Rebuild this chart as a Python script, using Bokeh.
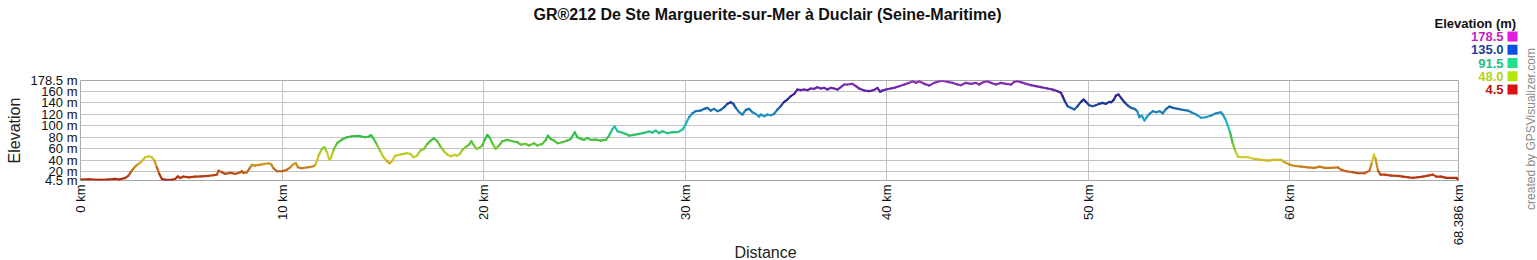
import numpy as np
from bokeh.plotting import figure
from bokeh.layouts import column
from bokeh.models import Range1d, FixedTicker, CustomJSTickFormatter, Label, ColumnDataSource
from bokeh.embed import file_html
from bokeh.resources import INLINE

# ---------------- data ----------------
dist_km = [
    0.00, 0.40, 0.89, 1.39, 1.72, 1.89, 2.22, 2.38, 2.55, 2.71, 2.88, 3.05, 3.21, 3.38, 3.54, 3.67,
    3.79, 3.91, 4.04, 4.20, 4.54, 4.70, 4.83, 4.95, 5.11, 5.36, 5.69, 6.02, 6.35, 6.60, 6.77, 6.85,
    7.02, 7.18, 7.43, 7.68, 7.93, 8.01, 8.09, 8.26, 8.42, 8.51, 8.67, 8.92, 9.17, 9.33, 9.47, 9.58,
    9.75, 10.00, 10.24, 10.41, 10.58, 10.69, 10.79, 10.96, 11.32, 11.57, 11.68, 11.85, 11.98, 12.11,
    12.23, 12.35, 12.43, 12.56, 12.73, 12.98, 13.22, 13.47, 13.80, 14.13, 14.30, 14.42, 14.55, 14.71,
    14.88, 15.04, 15.21, 15.34, 15.46, 15.62, 15.87, 16.04, 16.20, 16.37, 16.53, 16.70, 16.87,
    17.05, 17.21, 17.38, 17.54, 17.71, 17.87, 18.04, 18.20, 18.37, 18.53, 18.70, 18.83, 18.95, 19.11,
    19.28, 19.40, 19.53, 19.66, 19.78, 19.94, 20.06, 20.19, 20.32, 20.44, 20.60, 20.77, 20.93, 21.18,
    21.43, 21.68, 21.85, 22.09, 22.26, 22.51, 22.67, 22.92, 23.09, 23.20, 23.33, 23.50, 23.67, 23.91,
    24.16, 24.33, 24.53, 24.66, 24.82, 24.99, 25.16, 25.32, 25.57, 25.82, 26.07, 26.23, 26.40, 26.51,
    26.65, 26.81, 27.06, 27.22, 27.47, 27.72, 27.97, 28.22, 28.38, 28.55, 28.71, 28.88, 29.13, 29.38,
    29.62, 29.87, 30.04, 30.20, 30.37, 30.53, 30.78, 30.95, 31.11, 31.28, 31.44, 31.61, 31.78, 31.94,
    32.11, 32.27, 32.40, 32.52, 32.69, 32.85, 33.02, 33.18, 33.35, 33.51, 33.68,
    33.76, 33.93, 34.09, 34.26, 34.42, 34.59, 34.75, 34.92, 35.08, 35.25, 35.42, 35.58, 35.75, 35.91,
    36.08, 36.24, 36.41, 36.57, 36.74, 36.90, 37.07, 37.24, 37.40, 37.57, 37.73, 37.90, 38.06, 38.31,
    38.48, 38.64, 38.89, 39.14, 39.39, 39.55, 39.69, 39.80, 39.97, 40.21, 40.38, 40.63, 40.88, 41.13,
    41.29, 41.46, 41.62, 41.87, 42.12, 42.37, 42.61, 42.78, 43.03, 43.28, 43.52, 43.69, 43.94, 44.19,
    44.44, 44.60, 44.85, 45.01, 45.18, 45.43, 45.68, 45.92, 46.17, 46.34, 46.50, 46.67, 46.92, 47.17,
    47.41, 47.66, 47.99, 48.24, 48.49, 48.66, 48.74, 48.85, 48.99, 49.15, 49.32, 49.48, 49.65, 49.78,
    49.90, 50.06, 50.23, 50.39, 50.56, 50.72, 50.89, 51.06,
    51.15, 51.28, 51.39, 51.51, 51.64, 51.81, 51.97, 52.14, 52.31, 52.44, 52.55, 52.67, 52.80, 52.93,
    53.05, 53.22, 53.38, 53.55, 53.71, 53.88, 54.04, 54.21, 54.46, 54.70, 54.95, 55.12, 55.37, 55.62,
    55.86, 56.11, 56.36, 56.58, 56.69, 56.81, 56.94, 57.07, 57.19, 57.30, 57.44, 57.60, 57.93, 58.26,
    58.59, 58.93, 59.26, 59.59, 59.75, 60.00, 60.25, 60.58, 60.91, 61.24, 61.49, 61.74, 62.07, 62.40,
    62.57, 62.81, 63.15, 63.39, 63.73, 63.97, 64.09, 64.19, 64.27, 64.39, 64.52, 64.72, 65.05, 65.38,
    65.63, 65.88, 66.12, 66.37, 66.62, 66.87, 67.12, 67.28, 67.53, 67.78, 68.03, 68.28, 68.386,
]

elev_m = [
    6.0, 6.6, 5.5, 6.0, 7.2, 6.0, 8.9, 13.0, 21.7, 28.7, 33.3, 38.0, 44.9, 46.7, 44.9, 39.1,
    27.5, 15.9, 7.2, 5.5, 5.5, 7.2, 11.8, 8.9, 11.3, 10.1, 11.3, 11.8, 12.4, 13.6, 14.8, 21.7,
    18.8, 15.9, 17.7, 15.9, 18.8, 20.6, 17.7, 18.8, 27.5, 31.6, 30.4, 32.2, 33.3, 34.5, 32.2, 25.8,
    20.6, 20.6, 22.9, 27.5, 33.3, 34.5, 27.5, 25.8, 27.5, 29.3, 33.3, 50.8, 59.5, 62.4,
    53.7, 40.3, 43.8, 57.7, 69.3, 75.7, 79.8, 81.5, 82.1, 79.8, 80.9, 83.3, 76.9, 67.0,
    55.4, 44.9, 38.0, 34.5, 38.0, 47.8, 49.6, 50.8, 51.9, 50.8, 44.9, 47.8, 56.6,
    59.5, 68.2, 74.0, 78.0, 72.8, 63.5, 55.4, 49.6, 46.7, 49.0, 47.8, 50.8, 57.7, 62.4,
    67.0, 72.8, 65.3, 59.5, 61.2, 65.3, 75.1, 83.9, 78.6, 69.3, 59.5, 65.3, 72.8, 75.1,
    72.8, 71.1, 67.0, 68.2, 65.3, 69.3, 65.3, 68.2, 75.1, 82.7, 76.9, 74.0, 69.3, 71.1,
    74.0, 76.9, 88.5, 79.8, 76.9, 75.1, 78.6, 75.1, 75.7, 74.0, 75.1, 82.7, 94.3, 98.4,
    90.2, 88.5, 85.6, 82.7, 83.9, 85.6, 87.3, 89.7, 87.9, 91.4, 86.8, 90.2, 86.8, 88.5,
    88.5, 92.6, 103.0, 114.6, 121.6, 125.1, 126.2, 129.1, 130.9, 126.2, 129.1, 125.1, 127.4, 132.0,
    137.9, 140.8, 137.9, 130.9, 123.3, 119.3, 127.4, 129.1, 123.3, 120.4, 115.8,
    119.3, 116.4, 119.3, 118.1, 120.4, 128.0, 133.8, 141.3, 145.4, 151.2, 155.3, 162.8, 161.7, 162.8,
    161.7, 164.6, 164.0, 166.9, 164.6, 165.7, 162.8, 165.7, 164.6, 162.8, 166.9, 171.5, 171.5, 172.7,
    168.6, 164.6, 161.1, 159.9, 162.2, 165.7, 158.8, 161.1, 162.8, 164.6, 165.7, 168.6, 171.5, 174.4,
    177.3, 174.4, 177.3, 172.7, 169.8, 174.4, 177.3, 178.0, 176.2, 174.4, 171.5, 170.4, 174.4, 172.7,
    174.4, 171.5, 176.2, 177.3, 174.4, 171.5, 174.4, 172.7, 171.5, 176.2, 177.3, 175.6, 172.7, 170.4,
    168.6, 166.9, 164.6, 162.8, 159.9, 157.0, 151.2, 142.5, 133.8, 130.9, 128.0, 133.8, 141.3, 145.4,
    141.3, 135.5, 133.8, 135.5, 137.9, 139.6, 137.9, 141.3,
    140.7, 144.8, 152.4, 154.1, 148.3, 140.7, 135.0, 130.9, 129.1, 125.1, 114.6, 117.5, 108.8, 115.8,
    120.4, 125.1, 123.3, 125.1, 121.6, 129.1, 133.2, 130.9, 129.1, 127.4, 126.2, 123.3, 119.3, 113.5,
    114.6, 117.5, 121.6, 123.3, 119.3, 111.7, 100.1, 85.6, 68.2, 56.6, 46.1, 45.0, 45.0, 42.0,
    40.3, 39.1, 40.3, 40.3, 36.2, 32.2, 29.8, 28.7, 27.5, 26.4, 28.7, 26.4, 26.4, 27.5,
    22.9, 20.6, 18.8, 17.1, 17.1, 21.7, 36.2, 49.6, 42.0, 21.7, 14.7, 14.7, 13.0, 12.4,
    11.3, 10.1, 9.0, 10.1, 11.3, 13.0, 14.7, 11.3, 11.3, 9.0, 9.0, 9.0, 5.5,
]

x_ticks = [0, 10, 20, 30, 40, 50, 60, 68.386]
y_ticks = [4.5, 20, 40, 60, 80, 100, 120, 140, 160, 178.5]

legend_title = "Elevation (m)"
legend_values = ["178.5", "135.0", "91.5", "48.0", "4.5"]
legend_text_colors = ["#c21fc2", "#1a3f9e", "#22c07e", "#b4cf1c", "#c01010"]
legend_box_colors = ["#e01ee0", "#0a50e6", "#20e08a", "#b4e60a", "#e01010"]

# elevation -> line colour stops
stop_elev = [4.5, 18, 30, 44, 55, 68, 82, 92, 105, 120, 132, 142, 155, 168, 178.5]
stop_cols = ["#b0200f", "#c05018", "#cc8a20", "#d4cc28", "#a8cc30", "#5cc438", "#30c048",
             "#28c0a0", "#20b8d0", "#2090c0", "#1c5aa8", "#1c2c8c", "#401c98", "#7a28b0", "#9030b8"]

FONT = "Liberation Sans"
W, H = 1537, 260
X_MAX = x_ticks[-1]

# ---------------- main chart ----------------
p = figure(width=W, height=H, x_range=Range1d(0, X_MAX), y_range=Range1d(4.5, 178.5),
           min_border_left=80, min_border_right=79, min_border_top=80, min_border_bottom=80,
           output_backend="svg", toolbar_location=None, background_fill_color="white",
           border_fill_color="white")
p.outline_line_color = "#a8a8a8"

d = np.array(dist_km)
e = np.array(elev_m)
mid = (e[:-1] + e[1:]) / 2.0
rgb = np.array([[int(c[i:i + 2], 16) for i in (1, 3, 5)] for c in stop_cols], dtype=float)
cols = []
for m in mid:
    r = np.interp(m, stop_elev, rgb[:, 0])
    g = np.interp(m, stop_elev, rgb[:, 1])
    b = np.interp(m, stop_elev, rgb[:, 2])
    cols.append("#%02x%02x%02x" % (int(r), int(g), int(b)))
src = ColumnDataSource(dict(x0=d[:-1], y0=e[:-1], x1=d[1:], y1=e[1:], c=cols))
p.segment(x0="x0", y0="y0", x1="x1", y1="y1", line_color="c", line_width=2.2,
          line_cap="round", source=src)

p.xaxis.ticker = FixedTicker(ticks=x_ticks)
p.yaxis.ticker = FixedTicker(ticks=y_ticks)
p.xaxis.formatter = CustomJSTickFormatter(code="return tick + ' km'")
p.yaxis.formatter = CustomJSTickFormatter(code="return tick + ' m'")
p.xaxis.major_label_orientation = np.pi / 2
for ax in (p.xaxis[0], p.yaxis[0]):
    ax.axis_line_color = None
    ax.major_tick_line_color = None
    ax.minor_tick_line_color = None
    ax.major_tick_out = 0
    ax.major_tick_in = 0
    ax.major_label_text_font = FONT
    ax.major_label_text_font_size = "13px"
    ax.major_label_text_color = "#111111"
p.yaxis.major_label_standoff = 3
p.xaxis.major_label_standoff = 4
p.yaxis.axis_label = "Elevation"
p.yaxis.axis_label_text_font = FONT
p.yaxis.axis_label_text_font_size = "16px"
p.yaxis.axis_label_text_font_style = "normal"
p.yaxis.axis_label_text_color = "#222222"
p.yaxis.axis_label_standoff = 5
p.xgrid.grid_line_color = "#c4c4c4"
p.ygrid.grid_line_color = "#c4c4c4"

# ---------------- transparent overlay for texts around the chart ----------------
ov = figure(width=W, height=H, x_range=Range1d(0, W), y_range=Range1d(H, 0),
            x_axis_type=None, y_axis_type=None, min_border=0,
            output_backend="svg", toolbar_location=None,
            background_fill_alpha=0, border_fill_alpha=0, outline_line_color=None)
ov.grid.visible = False
ov.margin = (-H, 0, 0, 0)
for fig in (p, ov):
    if "frame_align" in fig.properties():
        fig.frame_align = False


def lab(text, x, y, size, bold=False, color="#111111", align="center", angle=0.0):
    ov.add_layout(Label(x=x, y=y, text=text, text_font=FONT, text_font_size=size,
                        text_font_style="bold" if bold else "normal", text_color=color,
                        text_align=align, text_baseline="middle", angle=angle))


lab("GR\u00ae212 De Ste Marguerite-sur-Mer \u00e0 Duclair (Seine-Maritime)", 767, 14, "16px", bold=True)
lab("Distance", 765, 252, "16px", color="#222222")
lab(legend_title, 1434, 23, "13px", bold=True, align="left")
row_y = [36 + 13.25 * i for i in range(len(legend_values))]
for v, tc, yy in zip(legend_values, legend_text_colors, row_y):
    lab(v, 1503, yy, "13px", bold=True, color=tc, align="right")
ov.quad(left=[1507] * len(row_y), right=[1517] * len(row_y),
        top=[yy - 5 for yy in row_y], bottom=[yy + 5 for yy in row_y],
        fill_color=legend_box_colors, line_color=None)
lab("created by GPSVisualizer.com", 1530, 128.5, "12px", color="#8a8a8a", angle=np.pi / 2)

layout = column(p, ov, spacing=0)
open("out.html", "w").write(file_html(layout, INLINE))
